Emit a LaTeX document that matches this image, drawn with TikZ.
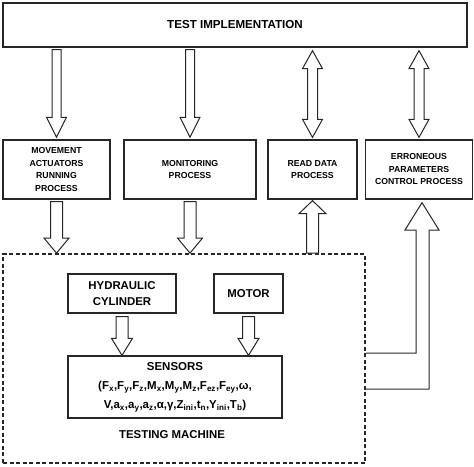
\documentclass[tikz,border=0pt]{standalone}
\usepackage{fontspec}
\setmainfont{Liberation Sans}
\usetikzlibrary{calc, positioning}

\begin{document}
\begin{tikzpicture}[
        x=1pt, y=-1pt,
        box/.style={draw=black!85, line width=1.3pt, align=center, inner sep=2pt},
        small/.style={font=\bfseries\fontsize{8.7}{12.5}\selectfont},
        big/.style={font=\bfseries\fontsize{11.4}{15.5}\selectfont},
        machinebox/.style={draw=black!85, line width=1.8pt, dash pattern=on 4pt off 2.5pt},
        flow/.style args={#1/#2/#3}{draw=black!85, line width=1pt, fill=white, to path={
            ($(\tikztostart)+(-#1,0)$) -- ($(\tikztotarget)!#3pt!(\tikztostart)+(-#1,0)$)
            -- ($(\tikztotarget)!#3pt!(\tikztostart)+(-#2,0)$) -- (\tikztotarget)
            -- ($(\tikztotarget)!#3pt!(\tikztostart)+(#2,0)$) -- ($(\tikztotarget)!#3pt!(\tikztostart)+(#1,0)$)
            -- ($(\tikztostart)+(#1,0)$) -- cycle}},
        dataflow/.style args={#1/#2/#3}{draw=black!85, line width=1pt, fill=white, to path={
            (\tikztostart) -- ($(\tikztostart)!#3pt!(\tikztotarget)+(#2,0)$)
            -- ($(\tikztostart)!#3pt!(\tikztotarget)+(#1,0)$) -- ($(\tikztotarget)!#3pt!(\tikztostart)+(#1,0)$)
            -- ($(\tikztotarget)!#3pt!(\tikztostart)+(#2,0)$) -- (\tikztotarget)
            -- ($(\tikztotarget)!#3pt!(\tikztostart)+(-#2,0)$) -- ($(\tikztotarget)!#3pt!(\tikztostart)+(-#1,0)$)
            -- ($(\tikztostart)!#3pt!(\tikztotarget)+(-#1,0)$) -- ($(\tikztostart)!#3pt!(\tikztotarget)+(-#2,0)$)
            -- cycle}}
    ]
    \useasboundingbox (0,0) rectangle (474,466);

    % Test implementation
    \node[box, font=\bfseries\fontsize{11.6}{14}\selectfont, minimum width=464pt, minimum height=44pt] (test) at (235,25) {TEST IMPLEMENTATION};

    % Processes
    \node[box, small, minimum width=107pt, minimum height=59pt] (move) at (56.5,169.5) {MOVEMENT\\ACTUATORS\\RUNNING\\PROCESS};
    \node[box, small, minimum width=132pt, minimum height=59pt] (monitor) at (190,169.5) {MONITORING\\PROCESS};
    \node[box, small, minimum width=89pt, minimum height=59pt] (read) at (312.5,169.5) {READ DATA\\PROCESS};
    \node[box, small, minimum width=107pt, minimum height=59pt] (error) at (419,169.5) {ERRONEOUS\\PARAMETERS\\CONTROL PROCESS};

    \draw[flow=4.5/10/20] ([yshift=-2pt]test.south -| move.north) to ([yshift=2pt]move.north);
    \draw[flow=4.5/10/20] ([yshift=-2pt]test.south -| monitor.north) to ([yshift=2pt]monitor.north);
    \draw[dataflow=5/10/18] ([yshift=-3pt]test.south -| read.north) to ([yshift=2pt]read.north);
    \draw[dataflow=5/10/18] ([yshift=-3pt]test.south -| error.north) to ([yshift=2pt]error.north);

    % Testing machine
    \node[machinebox, minimum width=362pt, minimum height=209pt] (machine) at (184,358.5) {};
    \node[box, big, minimum width=108pt, minimum height=39pt] (cylinder) at (122,293.5) {HYDRAULIC\\CYLINDER};
    \node[box, big, minimum width=69pt, minimum height=39pt] (motor) at (248.5,293.5) {MOTOR};
    \node[box, font=\bfseries\fontsize{11.5}{19}\selectfont, minimum width=214pt, minimum height=62pt] (sensors) at (175,387)
        {SENSORS\\(F\textsubscript{x},F\textsubscript{y},F\textsubscript{z},M\textsubscript{x},M\textsubscript{y},M\textsubscript{z},F\textsubscript{ez},F\textsubscript{ey},ω,\\V,a\textsubscript{x},a\textsubscript{y},a\textsubscript{z},α,γ,Z\textsubscript{ini},t\textsubscript{n},Y\textsubscript{ini},T\textsubscript{b})};
    \node[big] (machinelabel) at (172,435) {TESTING MACHINE};

    \draw[flow=6/12.5/15] ([yshift=-2pt]move.south) to (move.south |- machine.north);
    \draw[flow=6/12.5/15] ([yshift=-2pt]monitor.south) to (monitor.south |- machine.north);
    \draw[flow=6/13.5/13] (read.south |- machine.north) to ([yshift=-1pt]read.south);
    \draw[flow=6/10.5/17] ([yshift=-3pt]cylinder.south) to (cylinder.south |- sensors.north);
    \draw[flow=6/10.5/17] ([yshift=-3pt]motor.south) to (motor.south |- sensors.north);

    % Feedback to error control
    \draw[draw=black!85, line width=1pt] (machine.east |- 0,353) -- (416,353) -- (416,230) -- (405,230)
        -- ([xshift=3pt, yshift=-3pt]error.south) -- (439,230) -- (429,230) -- (429,389) -- (machine.east |- 0,389);

\end{tikzpicture}
\end{document}
